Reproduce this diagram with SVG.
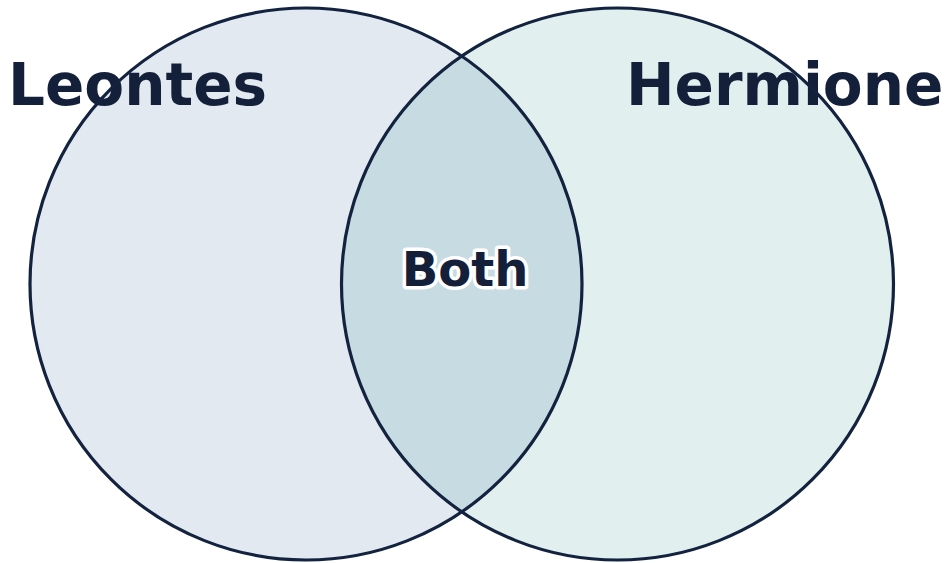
<svg xmlns="http://www.w3.org/2000/svg" width="945" height="563" viewBox="0 0 945 563">
<style>
.lbl{font-family:"DejaVu Sans",sans-serif;font-weight:bold;fill:#14203a}
.ring{fill:none;stroke:#13233f;stroke-width:3.2}
</style>
<rect width="945" height="563" fill="#ffffff"/>
<g id="fills">
<circle cx="306" cy="284" r="276" fill="#30669b" fill-opacity="0.14"/>
<circle cx="617.5" cy="284" r="276" fill="#168080" fill-opacity="0.13"/>
</g>
<g id="labels-sets">
<text class="lbl" x="8" y="105" font-size="58">Leontes</text>
<text class="lbl" x="626" y="105" font-size="58">Hermione</text>
</g>
<g id="leontes"><circle class="ring" cx="306" cy="284" r="276"/></g>
<g id="hermione"><circle class="ring" cx="617.5" cy="284" r="276"/></g>
<g id="both">
<text class="lbl" x="465" y="286" font-size="48" text-anchor="middle" stroke="#ffffff" stroke-width="7" stroke-linejoin="round" paint-order="stroke">Both</text>
</g>
</svg>
